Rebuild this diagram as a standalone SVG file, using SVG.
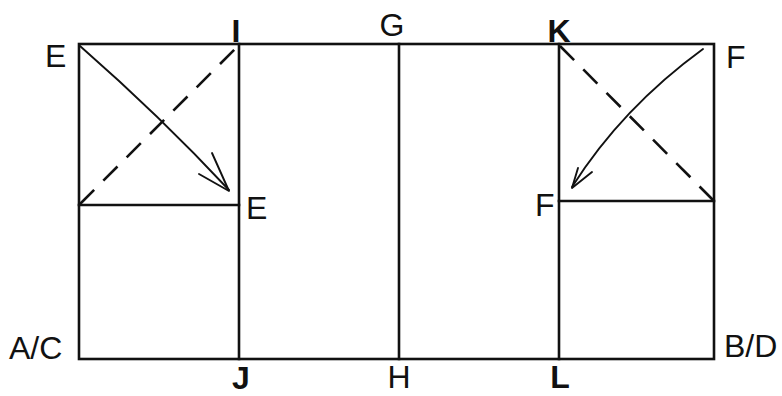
<svg xmlns="http://www.w3.org/2000/svg" width="782" height="396" viewBox="0 0 782 396">
<style>
.ln{stroke:#111;stroke-width:2.6;fill:none;stroke-linecap:square}
.dash{stroke:#111;stroke-width:2.6;fill:none;stroke-dasharray:20 13}
.arr{stroke:#111;stroke-width:1.9;fill:none;stroke-linecap:round;stroke-linejoin:round}
.t{font-family:"Liberation Sans",Arial,sans-serif;font-size:32px;fill:#111}
.b{font-weight:bold}
</style>
<rect width="782" height="396" fill="#fff"/>
<g id="frame">
<rect class="ln" x="79" y="44" width="635" height="315"/>
</g>
<g id="folds">
<line class="ln" x1="239" y1="44" x2="239" y2="359"/>
<line class="ln" x1="399" y1="44" x2="399" y2="359"/>
<line class="ln" x1="559" y1="44" x2="559" y2="359"/>
<line class="ln" x1="79" y1="205" x2="239" y2="205"/>
<line class="ln" x1="559" y1="201" x2="714" y2="201"/>
</g>
<g id="connectors">
<line class="dash" x1="80" y1="204" x2="238" y2="46"/>
<line class="dash" x1="560" y1="46" x2="713" y2="200"/>
<path class="arr" d="M80 46 Q160 116 229 190"/>
<path class="arr" d="M212 153 L229 191 L199 174"/>
<path class="arr" d="M703 49 Q622 108 572 187"/>
<path class="arr" d="M592 172 L572 188 L578 168"/>
</g>
<g id="labels">
<text class="t" x="45" y="67">E</text>
<text class="t b" x="236" y="42" text-anchor="middle">I</text>
<text class="t" x="392" y="36" text-anchor="middle">G</text>
<text class="t b" x="559" y="42" text-anchor="middle">K</text>
<text class="t" x="726" y="68">F</text>
<text class="t" x="246" y="219">E</text>
<text class="t" x="535" y="216">F</text>
<text class="t" x="9" y="359">A/C</text>
<text class="t" x="724" y="357">B/D</text>
<text class="t b" x="241" y="389" text-anchor="middle">J</text>
<text class="t" x="399" y="388" text-anchor="middle">H</text>
<text class="t b" x="560" y="388" text-anchor="middle">L</text>
</g>
</svg>
